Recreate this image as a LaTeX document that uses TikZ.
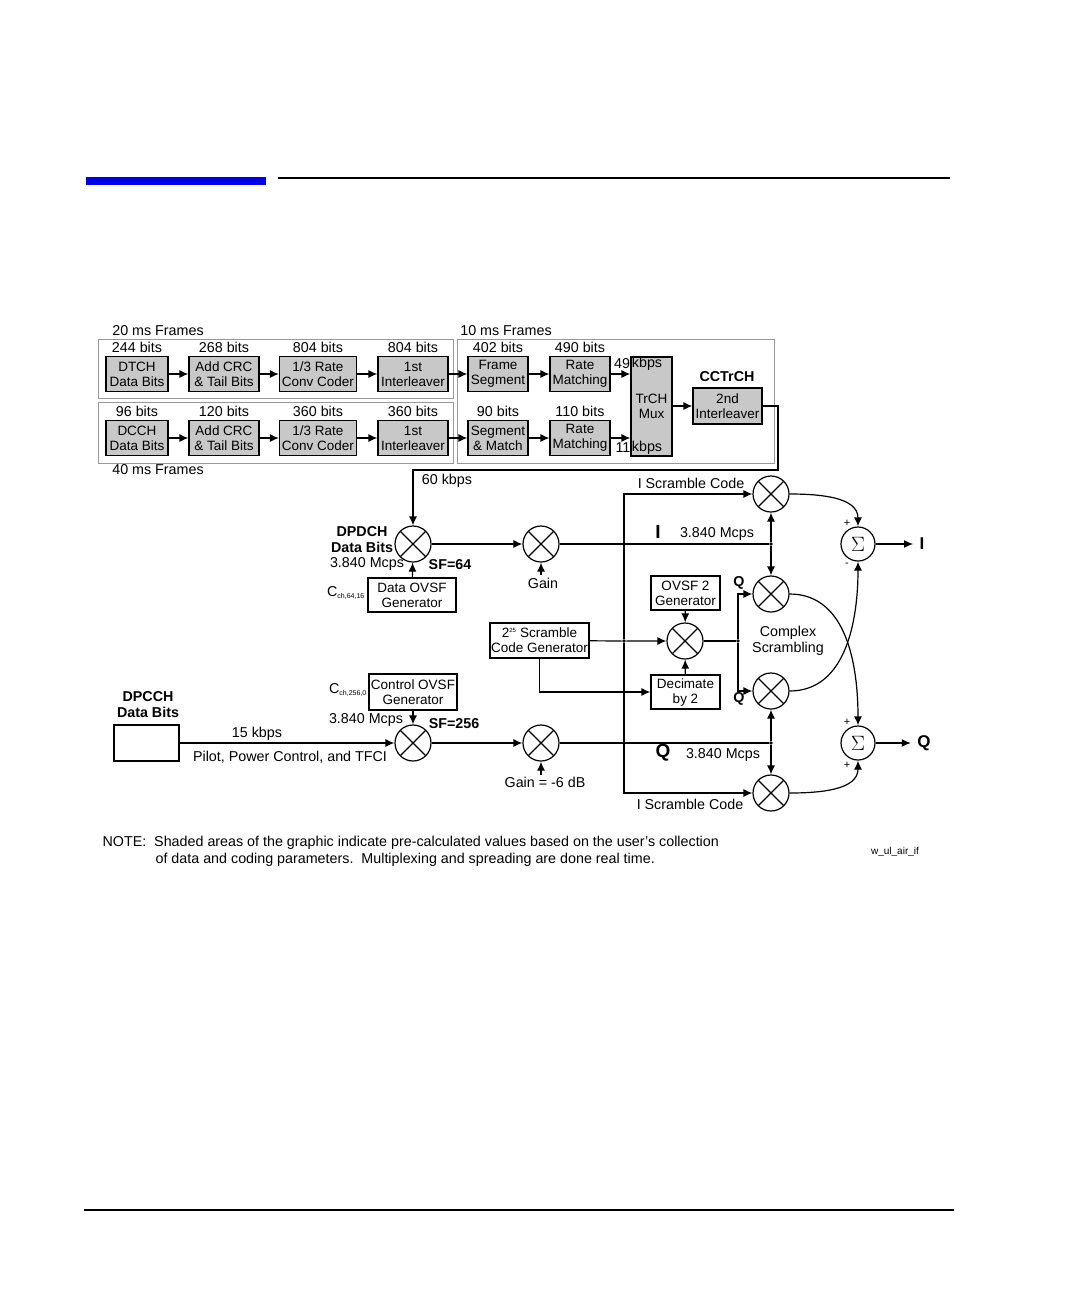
\documentclass[tikz,border=0pt]{standalone}
\usepackage{fontspec}
\setmainfont{Liberation Sans}
\usetikzlibrary{arrows.meta, positioning, calc}
\definecolor{shade}{RGB}{200,200,200}
\definecolor{barblue}{RGB}{0,0,230}
\tikzset{
    every path/.append style={line width=1.2pt},
    >={Latex[length=9pt,width=8pt]},
    txt/.style={font=\fontsize{14.3}{16}\selectfont, inner sep=0pt},
    bold/.style={txt, font=\fontsize{14.3}{16}\selectfont\bfseries},
    blk/.style={draw, fill=shade, align=center, inner sep=0pt, font=\fontsize{13.5}{15}\selectfont},
    wblk/.style={draw, fill=white, align=center, inner sep=0pt, font=\fontsize{13.5}{15}\selectfont},
    frame/.style={draw=black!40, line width=0.8pt},
    mult/.style={circle, draw, minimum size=36pt, inner sep=0pt,
      path picture={\draw (path picture bounding box.north west) -- (path picture bounding box.south east)
                          (path picture bounding box.south west) -- (path picture bounding box.north east);}},
    summ/.style={circle, draw, minimum size=34pt, inner sep=0pt, font=\fontsize{22}{22}\selectfont},
    dot/.style={circle, fill, inner sep=1.3pt},
}
\newcommand{\Blk}[6]{\node[#1, minimum width=#4pt, minimum height=35pt] (#2) at (#3) {#5};
  \node[txt, above=3pt of #2] {#6};}

\begin{document}
\begin{tikzpicture}[x=1pt, y=-1pt]
    \useasboundingbox (0,0) rectangle (1080,1296);

    % header and footer rules
    \fill[barblue] (86,177) rectangle (266,185);
    \draw[line width=1.5pt] (278,178) -- (950,178);
    \draw[line width=1.5pt] (84,1210) -- (954,1210);

    % frames
    \draw[frame] (98,339) rectangle (453,398);
    \draw[frame] (98,402) rectangle (453,463);
    \draw[frame] (457,339) rectangle (774,463);
    \node[txt] at (158,331) {20 ms Frames};
    \node[txt] at (506,331) {10 ms Frames};
    \node[txt] at (158,470) {40 ms Frames};

    % transport channel chains
    \Blk{blk}{dtch}{137,374}{62}{DTCH\\Data Bits}{244 bits}
    \Blk{blk}{crcA}{224,374}{70}{Add CRC\\\& Tail Bits}{268 bits}
    \Blk{blk}{convA}{318,374}{77}{1/3 Rate\\Conv Coder}{804 bits}
    \Blk{blk}{intA}{413,374}{70}{1st\\Interleaver}{804 bits}
    \Blk{blk}{segA}{498,374}{60}{Frame\\Segment}{402 bits}
    \Blk{blk}{rmA}{580,374}{60}{Rate\\Matching}{490 bits}
    \Blk{blk}{dcch}{137,438}{62}{DCCH\\Data Bits}{96 bits}
    \Blk{blk}{crcB}{224,438}{70}{Add CRC\\\& Tail Bits}{120 bits}
    \Blk{blk}{convB}{318,438}{77}{1/3 Rate\\Conv Coder}{360 bits}
    \Blk{blk}{intB}{413,438}{70}{1st\\Interleaver}{360 bits}
    \Blk{blk}{segB}{498,438}{60}{Segment\\\& Match}{90 bits}
    \Blk{blk}{rmB}{580,438}{60}{Rate\\Matching}{110 bits}
    \node[blk, minimum width=41pt, minimum height=99pt] (mux) at (651.5,406.5) {TrCH\\Mux};
    \node[blk, minimum width=69pt, minimum height=36pt] (il2) at (727.5,406) {2nd\\Interleaver};
    \node[bold] at (727,377) {CCTrCH};
    \node[txt] at (622,364) {49};
    \node[txt] at (647,364) {kbps};
    \node[txt] at (623,448) {11};
    \node[txt] at (647,448) {kbps};

    \foreach \a/\b in {dtch/crcA, crcA/convA, convA/intA, intA/segA, segA/rmA,
                       dcch/crcB, crcB/convB, convB/intB, intB/segB, segB/rmB}
      \draw[->] (\a) -- (\b);
    \draw[->] (rmA.east) -- (rmA.east -| mux.west);
    \draw[->] (rmB.east) -- (rmB.east -| mux.west);
    \draw[->] (mux.east |- il2) -- (il2);

    % spreading and scrambling
    \node[mult] (m1) at (413,544) {};
    \node[mult] (m2) at (541,544) {};
    \node[mult] (m3) at (771,494) {};
    \node[mult] (m4) at (771,594) {};
    \node[mult] (m5) at (685,641) {};
    \node[mult] (m6) at (771,691) {};
    \node[mult] (m7) at (413,743) {};
    \node[mult] (m8) at (541,743) {};
    \node[mult] (m9) at (771,793) {};
    \node[summ] (s1) at (858,544) {$\Sigma$};
    \node[summ] (s2) at (858,743) {$\Sigma$};

    \node[wblk, minimum width=88pt, minimum height=34pt] (dovsf) at (412,595) {Data OVSF\\Generator};
    \node[wblk, minimum width=88pt, minimum height=36pt] (covsf) at (413,692) {Control OVSF\\Generator};
    \node[wblk, minimum width=99pt, minimum height=35pt] (scg) at (539.5,640.5) {2\textsuperscript{\fontsize{6}{6}\selectfont 25} Scramble\\Code Generator};
    \node[wblk, minimum width=69pt, minimum height=34pt] (ovsf2) at (685.5,593) {OVSF 2\\Generator};
    \node[wblk, minimum width=69pt, minimum height=34pt] (dec) at (685.5,692) {Decimate\\by 2};
    \node[draw, minimum width=65pt, minimum height=36pt, inner sep=0pt] (dpcch) at (146.5,743) {};

    \coordinate (c1) at (778,406);
    \coordinate (c2) at (778,470);
    \coordinate (c3) at (413,470);
    \draw[->] (il2.east) -- (c1) -- (c2) -- (c3) -- (m1.north);
    \draw[->] (m1) -- (m2);
    \draw[->] (dovsf) -- (m1);
    \coordinate (g1) at (541,575);
    \draw[->] (g1) -- (m2.south);
    \node[txt] at (543,583) {Gain};

    \node[dot] (ji) at (771,544) {};
    \draw (m2) -- (ji);
    \draw[->] (ji) -- (m3);
    \draw[->] (ji) -- (m4);

    \node[dot] (jq) at (771,743) {};
    \draw[->] (m7) -- (m8);
    \draw (m8) -- (jq);
    \draw[->] (jq) -- (m6);
    \draw[->] (jq) -- (m9);
    \draw[->] (covsf) -- (m7);
    \coordinate (g2) at (541,775);
    \draw[->] (g2) -- (m8.south);
    \node[txt] at (545,782) {Gain = -6 dB};
    \draw[->] (dpcch) -- (m7);

    % scramble code distribution
    \node[dot] (js) at (624,641) {};
    \draw[->] (scg) -- (js) -- (m5);
    \draw[->] (js) |- (m3);
    \draw[->] (js) |- (m9);
    \draw[->] (scg.south) |- (dec);
    \draw[->] (ovsf2) -- (m5);
    \draw[->] (dec) -- (m5);
    \node[dot] (jd) at (738,641) {};
    \draw (m5) -- (jd);
    \draw[->] (jd) |- (m4);
    \draw[->] (jd) |- (m6);

    % complex combining
    \draw[->] (m3.east) to[out=0, in=90] (s1.north);
    \draw[->] (m6.east) to[out=0, in=-90] (s1.south);
    \draw[->] (m4.east) to[out=0, in=90] (s2.north);
    \draw[->] (m9.east) to[out=0, in=-90] (s2.south);
    \node[bold, font=\fontsize{17}{17}\selectfont\bfseries] (outI) at (922,544) {I};
    \node[bold, font=\fontsize{17}{17}\selectfont\bfseries] (outQ) at (924,743) {Q};
    \draw[->] (s1) -- ([xshift=-6pt]outI.west);
    \draw[->] (s2) -- ([xshift=-6pt]outQ.west);
    \node[txt, font=\fontsize{11}{11}\selectfont] at (847,523) {+};
    \node[txt, font=\fontsize{11}{11}\selectfont] at (847,565) {-};
    \node[txt, font=\fontsize{11}{11}\selectfont] at (847,722) {+};
    \node[txt, font=\fontsize{11}{11}\selectfont] at (847,765) {+};

    % labels
    \node[txt] at (447,481) {60 kbps};
    \node[txt] at (691,483) {I Scramble Code};
    \node[txt] at (690,804) {I Scramble Code};
    \node[bold, font=\fontsize{19}{19}\selectfont\bfseries] at (658,532) {I};
    \node[txt] at (717,534) {3.840 Mcps};
    \node[bold, font=\fontsize{19}{19}\selectfont\bfseries] at (663,753) {Q};
    \node[txt] at (723,755) {3.840 Mcps};
    \node[bold, align=center] at (362,540) {DPDCH\\Data Bits};
    \node[txt] at (367,564) {3.840 Mcps};
    \node[bold] at (450,565) {SF=64};
    \node[txt] at (346,593) {C\textsubscript{\fontsize{7}{7}\selectfont ch,64,16}};
    \node[txt] at (348,690) {C\textsubscript{\fontsize{7}{7}\selectfont ch,256,0}};
    \node[txt] at (366,720) {3.840 Mcps};
    \node[bold] at (454,724) {SF=256};
    \node[bold, align=center] at (148,705) {DPCCH\\Data Bits};
    \node[txt] at (257,734) {15 kbps};
    \node[txt] at (290,757) {Pilot, Power Control, and TFCI};
    \node[txt] at (739,583) {\bfseries Q};
    \node[txt] at (739,699) {\bfseries Q};
    \node[txt, align=center] at (788,641) {Complex\\Scrambling};

    % note
    \node[txt, anchor=west] at (102,843) {NOTE:\ \ Shaded areas of the graphic indicate pre-calculated values based on the user's collection};
    \node[txt, anchor=west] at (155,860) {of data and coding parameters.\ \ Multiplexing and spreading are done real time.};
    \node[txt, font=\fontsize{10}{10}\selectfont] at (895,852) {w\_ul\_air\_if};
\end{tikzpicture}
\end{document}
